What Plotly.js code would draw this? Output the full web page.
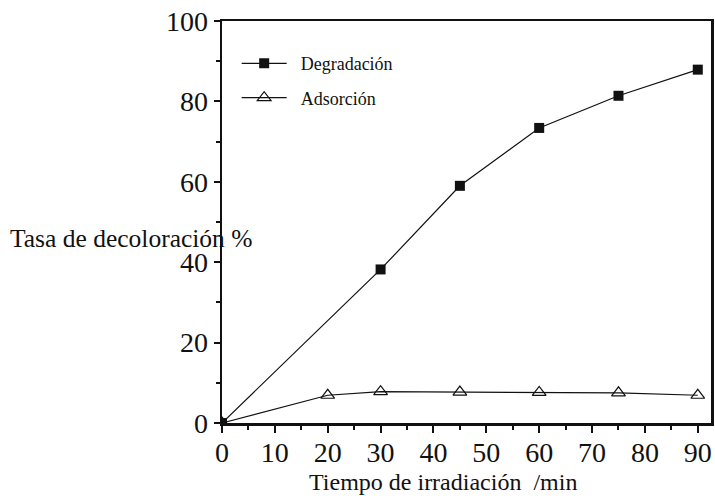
<!DOCTYPE html>
<html>
<head>
<meta charset="utf-8">
<script src="https://cdn.plot.ly/plotly-3.0.1.min.js"></script>
<style>html,body{margin:0;padding:0;background:#fff;}#chart{width:715px;height:496px;}</style>
</head>
<body>
<div id="chart"></div>
<script>
const timeDeg = [0, 30, 45, 60, 75, 90];
const degradacion = [0, 38.2, 59.0, 73.4, 81.4, 87.9];
const timeAds = [0, 20, 30, 45, 60, 75, 90];
const adsorcion = [0, 6.9, 7.8, 7.7, 7.6, 7.5, 6.9];
const xTicks = [0, 10, 20, 30, 40, 50, 60, 70, 80, 90];
const yTicks = [0, 20, 40, 60, 80, 100];
const seriesNames = ["Degradación", "Adsorción"];
const xTitle = "Tiempo de irradiación  /min";
const yTitle = "Tasa de decoloración %";

const serif = "'Liberation Serif', 'Times New Roman', Times, serif";

const traces = [
  {
    x: timeDeg, y: degradacion, name: "\u00a0\u00a0" + seriesNames[0], type: "scatter", mode: "lines+markers",
    legendgroup: "a",
    line: {color: "#111", width: 1.2},
    marker: {symbol: "square", size: 10, color: "#111"}
  },
  {
    x: timeAds, y: adsorcion, name: "\u00a0\u00a0" + seriesNames[1], type: "scatter", mode: "lines+markers",
    legendgroup: "b",
    line: {color: "#111", width: 1.2},
    marker: {symbol: "triangle-up-open", size: 12, color: "#111", line: {width: 1.2}}
  }
];

const layout = {
  width: 715, height: 496,
  font: {family: serif, color: "#111"},
  margin: {l: 222, r: 4, t: 21, b: 73},
  paper_bgcolor: "#fff", plot_bgcolor: "#fff",
  showlegend: true,
  legend: {
    x: 0.03, y: 0.94, xanchor: "left", yanchor: "top",
    font: {family: serif, size: 18, color: "#111"},
    bgcolor: "rgba(0,0,0,0)", tracegroupgap: 8, itemwidth: 45
  },
  xaxis: {
    range: [0, 92.5], tickvals: xTicks, ticktext: xTicks.map(String),
    showgrid: false, zeroline: false,
    showline: true, linecolor: "#111", linewidth: 2.5, mirror: true,
    ticks: "outside", ticklen: 7, tickwidth: 2, tickcolor: "#111",
    ticklabelstandoff: -4,
    minor: {dtick: 5, ticks: "outside", ticklen: 4, tickwidth: 2, tickcolor: "#111", showgrid: false},
    tickfont: {family: serif, size: 28, color: "#111"}
  },
  yaxis: {
    range: [0, 100], tickvals: yTicks, ticktext: yTicks.map(String),
    showgrid: false, zeroline: false,
    showline: true, linecolor: "#111", linewidth: 2.5, mirror: true,
    ticks: "outside", ticklen: 6, tickwidth: 2, tickcolor: "#111",
    minor: {dtick: 10, ticks: "outside", ticklen: 4, tickwidth: 2, tickcolor: "#111", showgrid: false},
    tickfont: {family: serif, size: 28, color: "#111"}
  },
  annotations: [
    {
      text: yTitle, xref: "paper", yref: "paper",
      x: -0.4376, y: 0.46, xanchor: "left", yanchor: "middle", showarrow: false,
      font: {family: serif, size: 25.5, color: "#111"}
    },
    {
      text: xTitle, xref: "paper", yref: "paper",
      x: 0.452, y: -0.147, xanchor: "center", yanchor: "middle", showarrow: false,
      font: {family: serif, size: 24, color: "#111"}
    }
  ]
};

Plotly.newPlot("chart", traces, layout, {displayModeBar: false, staticPlot: true});
</script>
</body>
</html>
